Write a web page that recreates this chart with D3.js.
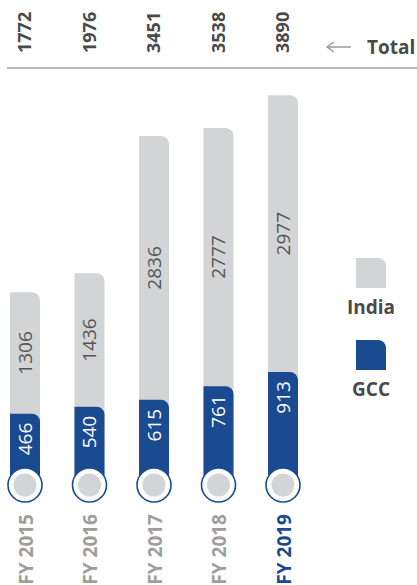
<!DOCTYPE html>
<html>
<head>
<meta charset="utf-8">
<script src="https://cdn.jsdelivr.net/npm/d3@7"></script>
<style>
  body { margin: 0; background: #fff; }
  svg { display: block; font-family: "Open Sans", sans-serif; }
</style>
</head>
<body>
<div id="chart"></div>
<script>
var years = ["FY 2015", "FY 2016", "FY 2017", "FY 2018", "FY 2019"];
var india = [1306, 1436, 2836, 2777, 2977];
var gcc = [466, 540, 615, 761, 913];
var totals = [1772, 1976, 3451, 3538, 3890];
var legendNames = ["India", "GCC"];

var width = 417, height = 585;
var blue = "#1a4b91", grey = "#d3d4d6", darkText = "#4a4a4a", catGrey = "#9d9d9d";
var barW = 30, radius = 8, base = 457, stemEnd = 485;

var svg = d3.select("#chart").append("svg")
    .attr("width", width).attr("height", height);

var x = d3.scalePoint().domain(years).range([25, 283]);
var y = d3.scaleLinear().domain([0, 4000]).range([base, 85]);

// bar with only the top right corner rounded
function barPath(cx, top, bottom) {
    var l = cx - barW / 2, r = cx + barW / 2;
    return "M" + l + "," + bottom + "V" + top + "H" + (r - radius) +
        "A" + radius + "," + radius + " 0 0 1 " + r + "," + (top + radius) +
        "V" + bottom + "Z";
}

var data = years.map(function(d, i) {
    return {year: d, india: india[i], gcc: gcc[i], total: totals[i], last: i === years.length - 1};
});

// top rule + totals
svg.append("line")
    .attr("x1", 7).attr("x2", width).attr("y1", 68).attr("y2", 68)
    .attr("stroke", "#a0a0a0").attr("stroke-width", 1.5);

svg.selectAll(".total").data(data).enter().append("text")
    .attr("class", "total")
    .attr("transform", function(d) { return "translate(" + x(d.year) + ",53) rotate(-90)"; })
    .attr("dy", ".35em")
    .attr("text-anchor", "start")
    .attr("font-size", 18).attr("font-weight", 700).attr("fill", darkText)
    .text(function(d) { return d.total; });

// arrow + Total
svg.append("line")
    .attr("x1", 327).attr("x2", 351).attr("y1", 47).attr("y2", 47)
    .attr("stroke", "#9a9a9a").attr("stroke-width", 1.5);
svg.append("path")
    .attr("d", "M334,42L327,47L334,52")
    .attr("fill", "none").attr("stroke", "#9a9a9a").attr("stroke-width", 1.5);
svg.append("text")
    .attr("x", 367).attr("y", 54)
    .attr("font-size", 19).attr("font-weight", 700).attr("fill", darkText)
    .text("Total");

var bars = svg.selectAll(".bar").data(data).enter().append("g").attr("class", "bar");

bars.append("path")   //india
    .attr("d", function(d) { return barPath(x(d.year), y(d.total), stemEnd); })
    .attr("fill", grey);
bars.append("path")   //gcc
    .attr("d", function(d) { return barPath(x(d.year), y(d.gcc), stemEnd); })
    .attr("fill", blue);
bars.append("circle")
    .attr("cx", function(d) { return x(d.year); }).attr("cy", stemEnd)
    .attr("r", 17).attr("fill", "#fff").attr("stroke", blue).attr("stroke-width", 1.6);
bars.append("circle")
    .attr("cx", function(d) { return x(d.year); }).attr("cy", stemEnd)
    .attr("r", 11.5).attr("fill", grey);

bars.append("text")   //india value
    .attr("transform", function(d) {
        return "translate(" + x(d.year) + "," + (y(d.total) + y(d.gcc)) / 2 + ") rotate(-90)";
    })
    .attr("dy", ".35em").attr("text-anchor", "middle")
    .attr("font-size", 19).attr("fill", "#555")
    .text(function(d) { return d.india; });
bars.append("text")   //gcc value
    .attr("transform", function(d) { return "translate(" + x(d.year) + "," + (y(d.gcc) + 9) + ") rotate(-90)"; })
    .attr("dy", ".35em").attr("text-anchor", "end")
    .attr("font-size", 19).attr("fill", "#fff")
    .text(function(d) { return d.gcc; });

bars.append("text")   //year
    .attr("transform", function(d) { return "translate(" + (x(d.year) + 1) + ",514) rotate(-90)"; })
    .attr("dy", ".35em").attr("text-anchor", "end")
    .attr("font-size", 19).attr("font-weight", 700)
    .attr("fill", function(d) { return d.last ? blue : catGrey; })
    .text(function(d) { return d.year; });

// legend
var legend = svg.selectAll(".legend").data(legendNames).enter().append("g")
    .attr("class", "legend")
    .attr("transform", function(d, i) { return "translate(371," + (258 + i * 82) + ")"; });
legend.append("path")
    .attr("d", function() { return barPath(0, 0, 30); })
    .attr("fill", function(d, i) { return i === 0 ? grey : blue; });
legend.append("text")
    .attr("y", 56).attr("text-anchor", "middle")
    .attr("font-size", 19).attr("font-weight", 700).attr("fill", darkText)
    .text(function(d) { return d; });
</script>
</body>
</html>
